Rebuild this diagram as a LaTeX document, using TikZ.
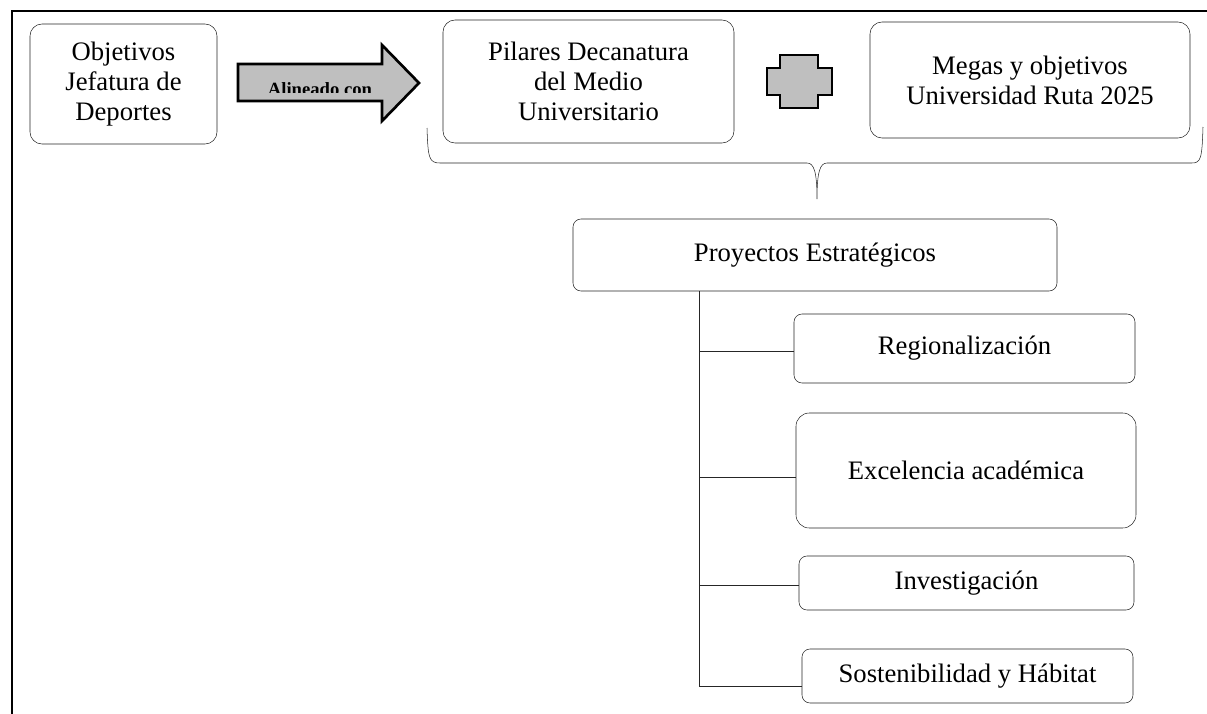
\documentclass[tikz,border=0pt]{standalone}
\usepackage{fontspec}
\setmainfont{Liberation Serif}
\begin{document}
\begin{tikzpicture}[x=0.75pt,y=-0.75pt,
 caja/.style={draw=black!85,rounded corners=9pt,align=center,inner sep=0pt,
   font=\fontsize{20}{22.5}\selectfont},
 subcaja/.style={caja,rounded corners=6pt},
 gris/.style={draw=black,line width=2pt,fill=gray!50,line join=miter}]
 \useasboundingbox (0,0) rectangle (1207,714);
 % marco
 \draw[line width=1.5pt] (12,714) -- (12,11) -- (1207,11);
 % fila superior
 \node[caja,minimum width=140.25pt,minimum height=90pt] (obj) at (123.5,84) {Objetivos\\Jefatura de\\Deportes};
 \node[caja,minimum width=218.25pt,minimum height=92.25pt] (pil) at (588.5,81.5) {Pilares Decanatura\\del Medio\\Universitario};
 \node[caja,minimum width=240pt,minimum height=87pt] (meg) at (1030,80) {Megas y objetivos\\Universidad Ruta 2025};
 % flecha
 \draw[gris](238,64)--(382,64)--(382,45)--(419,83)--(382,121)--(382,101)--(238,101)--cycle;
 \begin{scope}
  \clip (238,64) rectangle (382,92);
  \node[anchor=base,font=\bfseries\fontsize{14}{16}\selectfont] (alin) at (320,95) {Alineado con};
 \end{scope}
 % signo mas
 \draw[gris](780,55)--(818,55)--(818,68)--(832,68)--(832,95)--(818,95)--(818,108)--(780,108)--(780,95)--(767,95)--(767,68)--(780,68)--cycle;
 % llave
 \coordinate (llave) at (817,199);
 \draw[black!85] (427,128) .. controls (428,158) and (429,163) .. (440,163) -- (807,163)
   .. controls (814,163) and (817,172) .. (llave)
   .. controls (817,172) and (820,163) .. (827,163) -- (1192,163)
   .. controls (1201,163) and (1202,158) .. (1203,127);
 % proyectos
 \node[subcaja,minimum width=363pt,minimum height=54pt] (pro) at (815,255) {Proyectos Estratégicos};
 \node[subcaja,minimum width=255.75pt,minimum height=51.75pt] (reg) at (964.5,348.5) {Regionalización};
 \node[subcaja,minimum width=255pt,minimum height=86.25pt,rounded corners=10pt] (exc) at (966,470.5) {Excelencia académica};
 \node[subcaja,minimum width=251.25pt,minimum height=40.5pt] (inv) at (966.5,583) {Investigación};
 \node[subcaja,minimum width=248.25pt,minimum height=40.5pt] (sos) at (967.5,676) {Sostenibilidad y Hábitat};
 \coordinate (t1) at (699,291);
 \coordinate (t2) at (699,686);
 \draw[black!85] (t1) -- (t2) -- (t2 -| sos.west);
 \draw[black!85] (t1 |- 0,351) -- (reg.west |- 0,351);
 \draw[black!85] (t1 |- 0,477) -- (exc.west |- 0,477);
 \draw[black!85] (t1 |- 0,585) -- (inv.west |- 0,585);
\end{tikzpicture}
\end{document}
